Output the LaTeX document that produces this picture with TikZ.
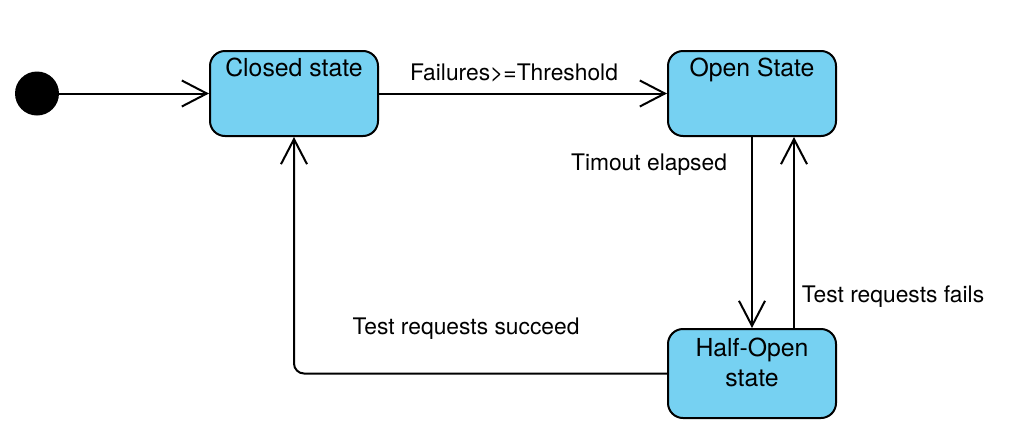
\documentclass[tikz,border=0pt]{standalone}
\usepackage{fontspec}
\setmainfont{TeX Gyre Heros}
\usetikzlibrary{arrows.meta}
\begin{document}
\begin{tikzpicture}[x=0.5pt, y=-0.5pt, line cap=round, line join=round,
  statebox/.style={draw, line width=1pt, fill=stateblue, rounded corners=7.5pt,
    inner sep=0pt, minimum width=84pt, font=\fontsize{12.4}{15}\selectfont},
  trans/.style={line width=1pt, -{Straight Barb[length=12.5pt,width=13pt]}},
  lbl/.style={inner sep=0pt, font=\fontsize{11.4}{13}\selectfont}]
  \definecolor{stateblue}{RGB}{118,209,242}
  \useasboundingbox (0,0) rectangle (1016,429);
  \node[circle, fill=black, inner sep=0pt, minimum size=22pt] (init) at (37,93.5) {};
  \node[statebox, text height=12.5pt, text depth=30pt] (closed) at (294,93.5) {Closed state};
  \node[statebox, text height=12.5pt, text depth=30pt] (open) at (752,93.5) {Open State};
  \node[statebox, text width=83.5pt, align=center, text height=13.5pt, text depth=31pt] (half) at (752,373.5) {Half-Open\\state};
  \draw[trans] (init) -- (closed);
  \draw[trans] (closed) -- (open);
  \draw[trans] (open) -- (half);
  \draw[trans] ([xshift=21pt]half.north) -- ([xshift=21pt]open.south);
  \draw[trans, rounded corners=5pt] (half.west) -| (closed.south);
  \node[lbl] (lblfail) at (514,73) {Failures>=Threshold};
  \node[lbl] (lbltime) at (649,165) {Timout elapsed};
  \node[lbl] (lblfails) at (893,297) {Test requests fails};
  \node[lbl] (lblsucc) at (466,329) {Test requests succeed};
\end{tikzpicture}
\end{document}
